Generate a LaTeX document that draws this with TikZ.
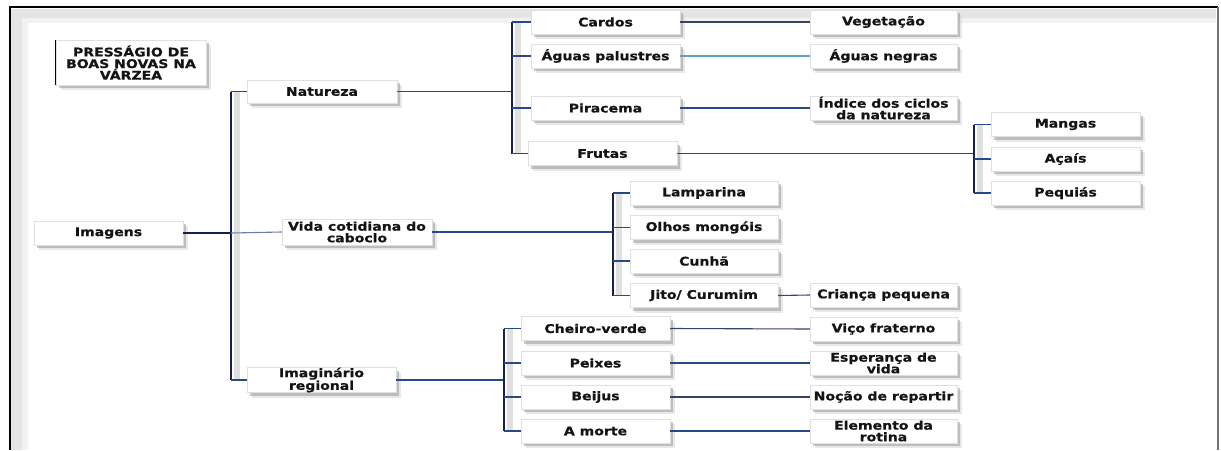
\documentclass[tikz,border=0pt]{standalone}
\usepackage{fontspec}
\newfontfamily\bx{DejaVu Sans}[FakeStretch=1.18, BoldFeatures={FakeBold=0.7}]
\usetikzlibrary{shadows}
\definecolor{navy}{RGB}{22,32,78}
\definecolor{hblue}{RGB}{40,72,135}
\definecolor{lblue}{RGB}{95,160,205}
\tikzset{
  box/.style={minimum width=149pt, minimum height=24pt, inner sep=0pt, fill=white,
    draw=black!12, line width=0.4pt, align=center,
    font=\bx\bfseries\fontsize{11.9}{11.6}\selectfont, text=black!92,
    drop shadow={shadow xshift=4.5pt, shadow yshift=-5pt, fill=black!18},
    drop shadow={shadow xshift=3pt, shadow yshift=-3pt, fill=black!42}},
  vline/.style={draw=navy, line width=2.4pt},
  hline/.style={draw=hblue, line width=1.1pt},
  hlight/.style={draw=lblue, line width=1.1pt},
  vshade/.style={draw=black!12, line width=6pt}
}
\begin{document}
\begin{tikzpicture}[x=1pt,y=-1pt]
\useasboundingbox (0,0) rectangle (1221,450);
% frame
\fill[black!10] (11,9) rectangle (22,450);
\fill[black!10] (11,9) rectangle (1216,18);
\fill[black!5] (22,18) rectangle (28,450);
\fill[black!5] (22,18) rectangle (1216,23);
\draw[black, line width=1.4pt] (10,450) -- (10,7) -- (1218,7);
\draw[black!55, line width=1.8pt] (1218,7) -- (1218,450);

% bracket coordinates
\coordinate (t0) at (231,0);
\coordinate (t1) at (512,0);
\coordinate (t2) at (974,0);
\coordinate (t3) at (613,0);
\coordinate (t4) at (504,0);

% shadows of vertical brackets
\draw[vshade] (237,91) -- (237,380);
\draw[vshade] (518,22) -- (518,153);
\draw[vshade] (980,125) -- (980,193);
\draw[vshade] (619,193) -- (619,295);
\draw[vshade] (510,329) -- (510,431);

% nodes
\node[box, minimum width=150pt, minimum height=45pt] (title) at (131,62.5) {PRESSÁGIO DE\\BOAS NOVAS NA\\VÁRZEA};
\node[box, minimum width=150pt, minimum height=23pt] (natureza) at (322,91.5) {Natureza};
\node[box] (imagens) at (108.5,233) {Imagens};
\node[box, minimum width=150pt, minimum height=26pt] (vida) at (357,232) {Vida cotidiana do\\caboclo};
\node[box, minimum height=25pt] (imag) at (321.5,380) {Imaginário\\regional};

\node[box] (cardos) at (605.5,22) {Cardos};
\node[box] (aguas) at (605.5,56) {Águas palustres};
\node[box] (piracema) at (605.5,108) {Piracema};
\node[box] (frutas) at (602.5,153.5) {Frutas};
\node[box, minimum width=147pt] (veget) at (883.5,22) {Vegetação};
\node[box, minimum width=147pt] (negras) at (883.5,56) {Águas negras};
\node[box, minimum width=147pt] (indice) at (883.5,108) {Índice dos ciclos\\da natureza};

\node[box] (mangas) at (1065.5,124.5) {Mangas};
\node[box] (acais) at (1065.5,159) {Açaís};
\node[box] (pequias) at (1065.5,193) {Pequiás};

\node[box, minimum width=148pt] (lamparina) at (704,193) {Lamparina};
\node[box, minimum width=148pt] (olhos) at (704,227.5) {Olhos mongóis};
\node[box, minimum width=148pt] (cunha) at (704,261) {Cunhã};
\node[box, minimum width=148pt] (jito) at (704,295.5) {Jito/ Curumim};
\node[box, minimum width=147pt] (crianca) at (883.5,295) {Criança pequena};

\node[box] (cheiro) at (595.5,328.5) {Cheiro-verde};
\node[box] (peixes) at (595.5,363) {Peixes};
\node[box] (beijus) at (595.5,397) {Beijus};
\node[box] (morte) at (595.5,431) {A morte};
\node[box, minimum width=147pt] (vico) at (883.5,329) {Viço fraterno};
\node[box, minimum width=147pt] (esper) at (883.5,363) {Esperança de\\vida};
\node[box, minimum width=147pt] (nocao) at (883.5,397) {Noção de repartir};
\node[box, minimum width=147pt] (elem) at (883.5,431) {Elemento da\\rotina};

\draw[black, line width=1.2pt] (title.north west) -- (title.south west);

% trunk
\draw[vline] (t0 |- natureza.west) -- (t0 |- imag.west);
\draw[hline] (t0 |- natureza.west) -- (natureza.west);
\draw[hline] (t0 |- imag.west) -- (imag.west);
\draw[hline, draw=navy] (imagens.east) -- (t0 |- imagens.east);
\draw[hline, draw=hblue!70] (t0 |- imagens.east) -- (vida.west);

% natureza group
\draw[hline] (natureza.east) -- (t1 |- natureza.east);
\draw[vline] (t1 |- cardos.west) -- (t1 |- frutas.west);
\draw[hline] (t1 |- cardos.west) -- (cardos.west);
\draw[hline] (t1 |- aguas.west) -- (aguas.west);
\draw[hline] (t1 |- piracema.west) -- (piracema.west);
\draw[hline] (t1 |- frutas.west) -- (frutas.west);
\draw[hline, draw=navy!85] (cardos.east) -- (veget.west);
\draw[hlight] (aguas.east) -- (negras.west);
\draw[hline] (piracema.east) -- (indice.west);

% frutas group
\draw[hline] (frutas.east) -- (t2 |- frutas.east);
\draw[vline] (t2 |- mangas.west) -- (t2 |- pequias.west);
\draw[hline] (t2 |- mangas.west) -- (mangas.west);
\draw[hline] (t2 |- acais.west) -- (acais.west);
\draw[hline] (t2 |- pequias.west) -- (pequias.west);

% vida group
\draw[hline] (vida.east) -- (t3 |- vida.east);
\draw[vline] (t3 |- lamparina.west) -- (t3 |- jito.west);
\draw[hline] (t3 |- lamparina.west) -- (lamparina.west);
\draw[hline] (t3 |- olhos.west) -- (olhos.west);
\draw[hline] (t3 |- cunha.west) -- (cunha.west);
\draw[hline] (t3 |- jito.west) -- (jito.west);
\draw[hline] (jito.east) -- (crianca.west);

% imaginario group
\draw[hline] (imag.east) -- (t4 |- imag.east);
\draw[vline] (t4 |- cheiro.west) -- (t4 |- morte.west);
\draw[hline] (t4 |- cheiro.west) -- (cheiro.west);
\draw[hline] (t4 |- peixes.west) -- (peixes.west);
\draw[hline] (t4 |- beijus.west) -- (beijus.west);
\draw[hline] (t4 |- morte.west) -- (morte.west);
\draw[hline, draw=navy!85] (cheiro.east) -- (vico.west);
\draw[hline] (peixes.east) -- (esper.west);
\draw[hline, draw=navy!85] (beijus.east) -- (nocao.west);
\draw[hline] (morte.east) -- (elem.west);
\end{tikzpicture}
\end{document}
